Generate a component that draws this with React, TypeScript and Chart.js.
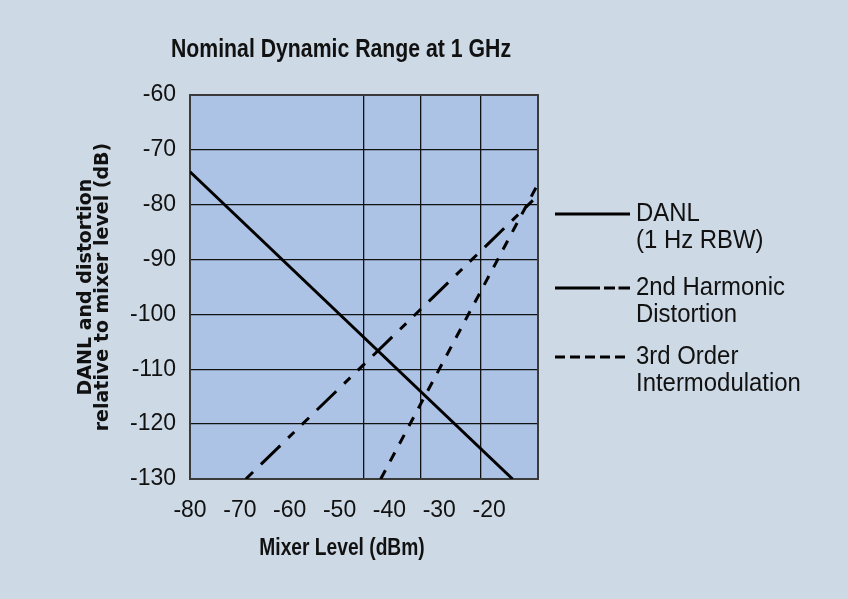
import { useEffect, useRef } from 'react';
import { Chart, registerables } from 'chart.js';

Chart.register(...registerables);

// ---- data ----
const chartTitle = 'Nominal Dynamic Range at 1 GHz';
const xAxisTitle = 'Mixer Level (dBm)';
const yAxisTitle = ['DANL and distortion', 'relative to mixer level (dB)'];

const xMin = -80;
const xMax = -10.2;
const yMin = -130;
const yMax = -60;
const xTickValues = [-80, -70, -60, -50, -40, -30, -20];
const yTickValues = [-60, -70, -80, -90, -100, -110, -120, -130];
const gridLinesX = [-45.16, -33.73, -21.64];

const danlX = [-80, -15.3];
const danlY = [-74, -130];
const harm2X = [-68.8, -10.2];
const harm2Y = [-130, -78.3];
const im3X = [-41.75, -10.2];
const im3Y = [-130, -76.2];

const seriesLabels = [
  ['DANL', '(1 Hz RBW)'],
  ['2nd Harmonic', 'Distortion'],
  ['3rd Order', 'Intermodulation'],
];

// ---- styles ----
const BG = '#cdd9e5';
const PLOT_BG = '#adc3e5';
const INK = '#111111';
const SANS = "'Liberation Sans', Arial, sans-serif";
const WIDE_BOLD = "'DejaVu Sans', sans-serif";
const seriesDash = [[], [10, 11, 27, 11, 8.5, 10.5], [10, 10]];
const legendDash = [[], [45, 4, 11, 3.5, 12], [10, 5]];

const pts = (xs: number[], ys: number[]) => xs.map((x, i) => ({ x, y: ys[i] }));

// draw horizontally condensed text (emulates a condensed face)
function condensedText(ctx: any, text: string, x: number, y: number, font: string, sx: number, align: string) {
  ctx.save();
  ctx.font = font;
  ctx.textAlign = align;
  ctx.textBaseline = 'middle';
  ctx.translate(x, y);
  ctx.scale(sx, 1);
  ctx.fillText(text, 0, 0);
  ctx.restore();
}

const decor = {
  id: 'decor',
  beforeDraw(chart: any) {
    const { ctx, chartArea: a, width, height } = chart;
    ctx.save();
    ctx.fillStyle = BG;
    ctx.fillRect(0, 0, width, height);
    ctx.fillStyle = PLOT_BG;
    ctx.fillRect(a.left, a.top, a.right - a.left, a.bottom - a.top);
    ctx.restore();
  },
  beforeDatasetsDraw(chart: any) {
    const { ctx, chartArea: a } = chart;
    ctx.save();
    ctx.strokeStyle = '#3a3a3a';
    ctx.lineWidth = 2;
    ctx.strokeRect(a.left, a.top, a.right - a.left, a.bottom - a.top);
    ctx.restore();
  },
  afterDraw(chart: any) {
    const { ctx } = chart;
    ctx.save();
    ctx.fillStyle = INK;
    condensedText(ctx, chartTitle, 341, 50, `bold 25px ${SANS}`, 0.85, 'center');
    condensedText(ctx, xAxisTitle, 342, 548, `bold 24px ${SANS}`, 0.8, 'center');

    // legend
    const lineYs = [214, 288, 357];
    seriesLabels.forEach((lines, i) => {
      const y = lineYs[i];
      ctx.save();
      ctx.strokeStyle = '#000';
      ctx.lineWidth = 3;
      ctx.lineCap = 'butt';
      ctx.setLineDash(legendDash[i]);
      ctx.beginPath();
      ctx.moveTo(555, y);
      ctx.lineTo(630, y);
      ctx.stroke();
      ctx.restore();
      lines.forEach((t, j) => condensedText(ctx, t, 636, y + j * 27, `26px ${SANS}`, 0.92, 'left'));
    });
    ctx.restore();
  },
};

export default function App() {
  const ref = useRef<HTMLCanvasElement>(null);
  useEffect(() => {
    const makeSet = (label: string, data: any[], dash: number[]) => ({
      label,
      data,
      borderColor: '#000',
      borderWidth: 3,
      borderDash: dash,
      borderCapStyle: 'butt',
      pointRadius: 0,
      fill: false,
      tension: 0,
    });
    const chart = new Chart(ref.current as HTMLCanvasElement, {
      type: 'line',
      data: {
        datasets: [
          makeSet(seriesLabels[0].join(' '), pts(danlX, danlY), seriesDash[0]),
          makeSet(seriesLabels[1].join(' '), pts(harm2X, harm2Y), seriesDash[1]),
          makeSet(seriesLabels[2].join(' '), pts(im3X, im3Y), seriesDash[2]),
        ],
      } as any,
      options: {
        animation: false,
        responsive: false,
        layout: { padding: { top: 95, right: 310, bottom: 0, left: 0 } },
        plugins: {
          legend: { display: false },
          title: { display: false },
          tooltip: { enabled: false },
        },
        scales: {
          x: {
            type: 'linear',
            position: 'bottom',
            min: xMin,
            max: xMax,
            afterBuildTicks: (s: any) => {
              s.ticks = xTickValues.map((v) => ({ value: v }));
            },
            afterFit: (s: any) => {
              s.height = 120;
            },
            grid: { display: false, drawTicks: false },
            border: { display: false },
            ticks: {
              padding: 18,
              color: INK,
              autoSkip: false,
              maxRotation: 0,
              font: { family: SANS, size: 23 },
            },
          },
          xg: {
            type: 'linear',
            axis: 'x',
            position: 'bottom',
            min: xMin,
            max: xMax,
            afterBuildTicks: (s: any) => {
              s.ticks = gridLinesX.map((v) => ({ value: v }));
            },
            grid: { color: INK, lineWidth: 1.3, drawTicks: false },
            border: { display: false },
            ticks: { display: false },
          },
          y: {
            type: 'linear',
            min: yMin,
            max: yMax,
            afterBuildTicks: (s: any) => {
              s.ticks = yTickValues.map((v) => ({ value: v }));
            },
            afterFit: (s: any) => {
              s.width = 190;
            },
            grid: { color: INK, lineWidth: 1.3, drawTicks: false },
            border: { display: false },
            ticks: {
              padding: 14,
              color: INK,
              font: { family: SANS, size: 23 },
            },
            title: {
              display: true,
              text: yAxisTitle,
              color: INK,
              font: { family: WIDE_BOLD, weight: 'bold', size: 19, lineHeight: '17px' },
              padding: { top: 78, bottom: 0 },
            },
          },
        },
      } as any,
      plugins: [decor],
    });
    return () => chart.destroy();
  }, []);
  return (
    <div style={{ position: 'absolute', left: 0, top: 0, width: 848, height: 599, background: BG }}>
      <canvas ref={ref} width={848} height={599} style={{ display: 'block' }} />
    </div>
  );
}
